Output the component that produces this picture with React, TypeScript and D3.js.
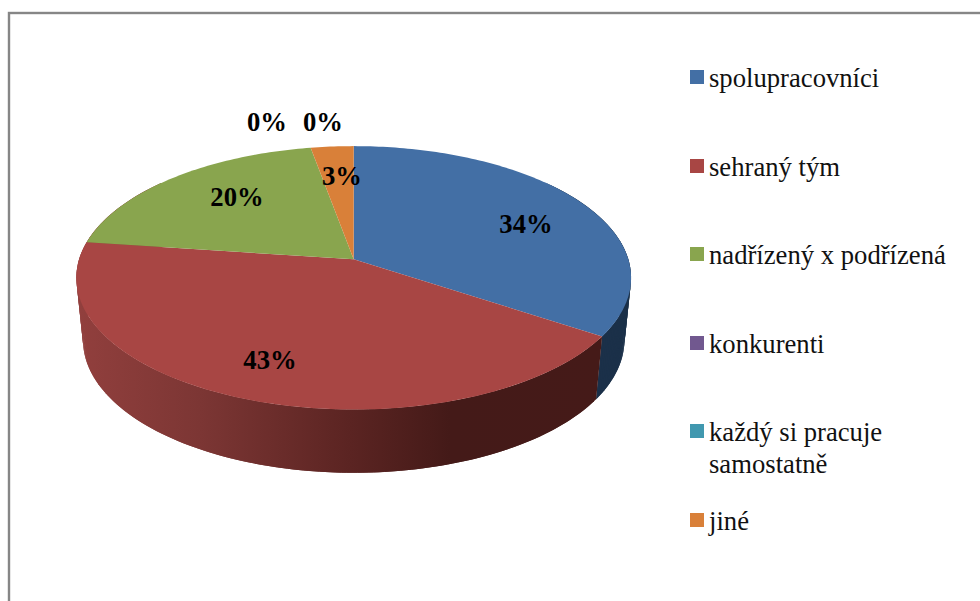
import React from "react";
import * as d3 from "d3";

const categories = ["spolupracovníci", "sehraný tým", "nadřízený x podřízená", "konkurenti", "každý si pracuje|samostatně", "jiné"];
const counts = [12, 15, 7, 0, 0, 1];
const colors = ["#436fa5", "#a84644", "#89a54e", "#71588f", "#4198af", "#d98039"];
const wallStops = [80, 200, 350, 450, 600];
const wallShades = ["#913f3d", "#7c3634", "#5b2422", "#441a18", "#451a18"];
const blueWall = "#1b3049";

const labelAnchors: [number, number][] = [[526, 233], [270, 369], [237, 206], [267, 131], [323, 131], [342, 185]];
const legendY = [77, 166, 254, 343, 431, 520];

const apex = 353.7;
const topPlane = { cy: 259.3, k: 274.6, m: 129.1, p: 0.1407 };
const lowPlane = { cy: 321.5, k: 268, m: 130, p: 0.1407 };
const project = (pl: typeof topPlane, a: number): [number, number] => {
  const X = Math.sin(a), Y = Math.cos(a), w = 1 + pl.p * Y;
  return [apex + (pl.k * X) / w, pl.cy - (pl.m * Y) / w];
};
const total = d3.sum(counts);
const pct = d3.format(".0%");
const arcs = d3.pie<number>().sort(null).value((d) => d)(counts);
const line = d3.line();
const STEP = Math.PI / 180;
const angleSteps = (a0: number, a1: number) => {
  const n = Math.max(1, Math.ceil((a1 - a0) / STEP));
  return d3.range(n + 1).map((i) => a0 + ((a1 - a0) * i) / n);
};
const WALL_MIN = (50 * Math.PI) / 180, WALL_MAX = (310 * Math.PI) / 180;

export default function App() {
  const stopScale = d3.scaleLinear().domain([wallStops[0], wallStops[wallStops.length - 1]]).range([0, 1]);
  const wallQuads = (a0: number, a1: number, fill: string, key: string) => {
    const st = angleSteps(a0, a1);
    return st.slice(0, -1).map((a, j) => {
      const b = st[Math.min(j + 2, st.length - 1)];
      const pts = [project(topPlane, a), project(topPlane, b), project(lowPlane, b), project(lowPlane, a)];
      return <path key={`${key}-${j}`} d={line(pts)! + "Z"} fill={fill} />;
    });
  };
  const [blue, red] = arcs;
  return (
    <svg width={980} height={601} style={{ position: "absolute", left: 0, top: 0, background: "#fff" }}>
      <defs>
        <linearGradient id="redWall" gradientUnits="userSpaceOnUse" x1={wallStops[0]} x2={wallStops[wallStops.length - 1]} y1={0} y2={0}>
          {wallStops.map((s, i) => (
            <stop key={s} offset={stopScale(s)} stopColor={wallShades[i]} />
          ))}
        </linearGradient>
      </defs>
      <rect x={9} y={13} width={1000} height={620} fill="#fff" stroke="#868686" strokeWidth={2.4} />
      {wallQuads(WALL_MIN, blue.endAngle, blueWall, "b")}
      {wallQuads(red.startAngle, WALL_MAX, "url(#redWall)", "r")}
      {arcs.map((s, i) =>
        s.endAngle > s.startAngle ? (
          <path
            key={i}
            d={line([[apex, topPlane.cy], ...angleSteps(s.startAngle, s.endAngle).map((a) => project(topPlane, a))])! + "Z"}
            fill={colors[i]}
          />
        ) : null
      )}
      {[0, 1, 2, 3, 4, 5].map((i) => (
        <text key={i} x={labelAnchors[i][0]} y={labelAnchors[i][1]} textAnchor="middle"
          fontFamily="'Liberation Serif'" fontWeight="bold" fontSize={26.67} fill="#000">{pct(counts[i] / total)}</text>
      ))}
      {categories.map((c, i) => (
        <g key={c}>
          <rect x={690} y={legendY[i] - 7} width={14} height={14} fill={colors[i]} />
          {c.split("|").map((ln, j) => (
            <text key={j} x={709} y={legendY[i] + 9.6 + j * 32} fontFamily="'Liberation Serif'" fontSize={26.67} fill="#111">{ln}</text>
          ))}
        </g>
      ))}
    </svg>
  );
}
